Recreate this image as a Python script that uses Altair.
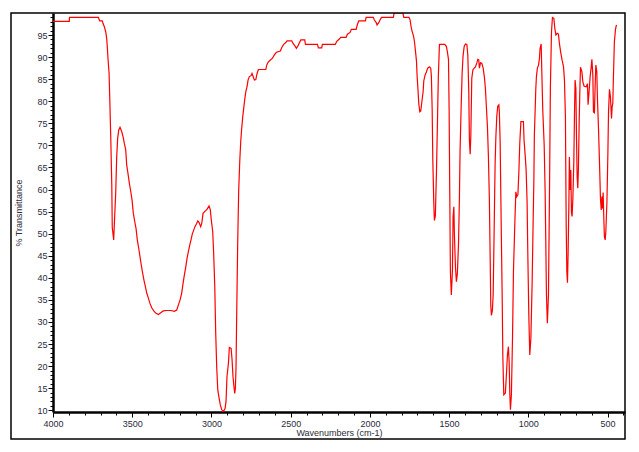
import altair as alt
import pandas as pd

wavenumber = [
    4000, 3897, 3896, 3714, 3705, 3689, 3684, 3676, 3667, 3661, 3657, 3653, 3646, 3642, 3636, 3629,
    3626, 3617, 3613, 3604, 3598, 3592, 3585, 3577, 3566, 3558, 3550, 3541, 3535, 3527, 3518, 3509,
    3501, 3493, 3484, 3476, 3468, 3459, 3451, 3443, 3434, 3426, 3417, 3408, 3398, 3388, 3377, 3364,
    3352, 3335, 3320, 3304, 3282, 3255, 3234, 3219, 3209, 3198, 3188, 3179, 3171, 3162, 3154, 3146,
    3137, 3129, 3121, 3112, 3104, 3095, 3086, 3078, 3068, 3061, 3053, 3040, 3028, 3015, 3007, 3001,
    2992, 2986, 2979, 2973, 2967, 2960, 2952, 2944, 2935, 2925, 2914, 2908, 2902, 2893, 2887, 2876,
    2870, 2864, 2857, 2853, 2849, 2845, 2840, 2834, 2828, 2821, 2815, 2809, 2802, 2796, 2790, 2783,
    2775, 2769, 2761, 2750, 2744, 2737, 2729, 2720, 2712, 2704, 2657, 2651, 2643, 2630, 2616, 2603,
    2590, 2565, 2556, 2544, 2531, 2523, 2493, 2485, 2472, 2464, 2455, 2447, 2436, 2411, 2407, 2331,
    2325, 2304, 2300, 2218, 2209, 2193, 2184, 2150, 2142, 2125, 2117, 2087, 2079, 2070, 2028, 2024,
    1978, 1972, 1961, 1955, 1944, 1936, 1927, 1852, 1847, 1792, 1786, 1753, 1746, 1740, 1734, 1725,
    1719, 1713, 1706, 1702, 1696, 1691, 1685, 1679, 1672, 1664, 1660, 1652, 1643, 1635, 1624, 1616,
    1612, 1607, 1603, 1597, 1593, 1587, 1580, 1574, 1568, 1561, 1527, 1517, 1511, 1504, 1500, 1496,
    1492, 1486, 1479, 1475, 1470, 1467, 1460, 1454, 1448, 1441, 1435, 1431, 1424, 1418, 1412, 1405,
    1397, 1388, 1382, 1376, 1372, 1367, 1363, 1357, 1350, 1342, 1334, 1325, 1319, 1313, 1309, 1302,
    1294, 1285, 1277, 1271, 1265, 1258, 1252, 1246, 1241, 1237, 1233, 1227, 1222, 1216, 1210, 1205,
    1199, 1193, 1186, 1183, 1178, 1172, 1165, 1161, 1155, 1145, 1138, 1132, 1126, 1121, 1117, 1113,
    1107, 1100, 1094, 1085, 1079, 1073, 1066, 1060, 1054, 1047, 1031, 1027, 1020, 1014, 1008, 1003,
    997, 991, 984, 976, 970, 965, 962, 957, 953, 949, 943, 936, 930, 926, 919, 915,
    909, 900, 894, 890, 886, 880, 873, 867, 861, 854, 848, 839, 833, 826, 818, 810,
    804, 795, 787, 778, 772, 766, 761, 757, 753, 749, 744, 741, 736, 732, 728, 724,
    719, 713, 709, 705, 700, 696, 692, 688, 684, 679, 675, 671, 662, 656, 648, 635,
    627, 623, 616, 610, 604, 599, 593, 589, 583, 578, 574, 568, 564, 557, 551, 545,
    540, 536, 532, 528, 523, 520, 515, 511, 504, 498, 494, 488, 482, 475, 471, 467,
    463, 457, 450, 444,
]

transmittance = [
    98.1, 98.1, 99.0, 99.0, 98.2, 98.2, 97.6, 96.9, 95.7, 94.2, 92.2, 89.7, 86.3, 80.9, 72.6, 61.0,
    51.4, 48.6, 52.0, 59.5, 67.4, 71.6, 73.5, 74.1, 73.1, 72.0, 70.5, 69.0, 65.6, 63.7, 61.4, 59.5,
    57.6, 54.6, 52.7, 51.2, 48.6, 46.7, 44.8, 42.9, 41.0, 39.5, 38.0, 36.5, 35.4, 34.2, 33.2, 32.5,
    32.0, 31.7, 32.1, 32.5, 32.6, 32.6, 32.4, 32.7, 33.8, 35.0, 36.5, 38.8, 40.6, 42.5, 44.4, 45.9,
    47.4, 48.6, 49.9, 50.8, 51.6, 52.2, 52.9, 52.5, 51.6, 52.4, 54.6, 55.1, 55.5, 56.3, 55.4, 53.1,
    50.5, 45.5, 38.0, 27.4, 19.9, 14.6, 12.8, 11.2, 10.1, 9.7, 10.4, 12.0, 17.6, 20.6, 24.2, 24.0,
    21.5, 17.6, 15.0, 13.8, 15.0, 19.5, 33.5, 48.6, 59.9, 66.7, 71.0, 73.9, 76.7, 78.5, 80.4, 82.2,
    83.4, 84.8, 85.6, 85.8, 86.3, 85.6, 84.8, 84.9, 86.3, 87.2, 87.2, 88.2, 88.8, 89.3, 89.7, 90.5,
    91.1, 91.4, 92.2, 92.9, 93.3, 93.7, 93.7, 93.1, 92.5, 92.0, 92.5, 93.1, 93.9, 93.9, 92.9, 92.9,
    92.1, 92.1, 92.9, 92.9, 93.6, 94.1, 94.5, 94.5, 95.2, 95.6, 96.3, 96.3, 97.4, 98.2, 98.2, 99.0,
    99.0, 98.4, 97.9, 97.3, 97.8, 98.4, 99.0, 99.0, 100.0, 100.0, 99.0, 99.0, 98.4, 96.9, 95.9, 94.8,
    93.6, 91.6, 89.1, 85.8, 82.2, 79.3, 77.6, 77.8, 79.9, 82.2, 84.6, 85.9, 86.7, 87.5, 87.8, 87.5,
    85.7, 78.2, 66.8, 57.3, 53.0, 54.0, 63.8, 74.6, 85.7, 92.9, 92.9, 92.4, 91.2, 89.5, 78.2, 59.5,
    41.4, 36.1, 41.8, 53.9, 56.1, 50.2, 42.4, 39.1, 41.0, 47.4, 58.0, 68.6, 78.8, 86.3, 90.3, 92.4,
    93.0, 92.9, 90.5, 82.2, 71.2, 68.0, 72.3, 85.2, 87.1, 87.5, 87.8, 88.7, 89.5, 89.4, 87.5, 88.7,
    88.6, 87.5, 85.3, 82.9, 78.8, 74.1, 67.4, 57.9, 44.7, 33.7, 31.5, 32.6, 36.2, 50.3, 65.4, 71.9,
    76.7, 78.9, 79.2, 77.5, 70.9, 53.9, 35.4, 22.1, 13.5, 13.9, 18.4, 22.5, 24.4, 20.9, 13.8, 10.1,
    13.5, 26.3, 41.4, 52.7, 59.5, 58.4, 58.8, 63.8, 70.6, 75.4, 75.4, 71.1, 67.8, 64.4, 57.3, 44.6,
    31.5, 22.5, 26.3, 39.0, 52.3, 62.5, 72.4, 78.0, 82.8, 85.6, 87.5, 88.2, 89.7, 92.0, 93.0, 86.7,
    78.0, 70.0, 59.5, 48.6, 36.5, 29.7, 36.1, 57.6, 82.9, 95.7, 99.0, 98.8, 96.5, 95.0, 95.4, 95.2,
    93.1, 90.9, 89.3, 87.8, 84.8, 76.5, 51.6, 41.4, 38.9, 45.6, 57.3, 67.4, 59.9, 64.4, 54.8, 53.9,
    58.0, 66.3, 76.5, 84.8, 82.9, 71.6, 62.9, 60.3, 64.8, 75.7, 82.2, 87.7, 86.7, 84.4, 83.4, 83.3,
    84.0, 79.2, 82.5, 85.6, 87.5, 89.5, 85.9, 77.6, 77.4, 84.1, 88.2, 86.7, 80.7, 73.5, 66.3, 58.0,
    55.4, 58.4, 55.7, 59.3, 52.7, 49.3, 48.6, 50.5, 57.3, 68.3, 77.6, 82.7, 81.0, 76.1, 78.8, 79.5,
    85.6, 93.5, 96.3, 97.3,
]

x_tick_values = list(range(400, 4001, 100))
y_tick_values = list(range(10, 100))

df = pd.DataFrame({
    "wn": wavenumber,
    "t": transmittance,
    "i": list(range(len(wavenumber))),
})

W, H = 572, 399
FONT = "Liberation Sans"
LABEL_COLOR = "#2b2b3a"

x_axis = alt.Axis(
    values=x_tick_values,
    labelExpr="datum.value % 500 === 0 ? datum.value : ''",
    labelOverlap=False,
    labelFlush=False,
    grid=False,
    domainColor="black",
    domainWidth=2.5,
    tickColor="black",
    tickWidth=1,
    tickSize={"condition": {"test": "datum.value % 500 === 0", "value": 5}, "value": 3},
    labelFont=FONT,
    labelFontSize=9,
    labelColor=LABEL_COLOR,
    labelPadding=2,
    title="Wavenumbers (cm-1)",
    titleFont=FONT,
    titleFontSize=9,
    titleFontWeight="normal",
    titleColor=LABEL_COLOR,
    titlePadding=0,
)

y_axis = alt.Axis(
    values=y_tick_values,
    labelExpr="datum.value % 5 === 0 ? datum.value : ''",
    labelOverlap=False,
    labelFlush=False,
    grid=False,
    domainColor="black",
    domainWidth=2.5,
    tickColor="black",
    tickWidth=1,
    tickSize={"condition": {"test": "datum.value % 5 === 0", "value": 5}, "value": 3},
    labelFont=FONT,
    labelFontSize=9,
    labelColor=LABEL_COLOR,
    labelPadding=1,
    title="% Transmittance",
    titleFont=FONT,
    titleFontSize=9,
    titleFontWeight="normal",
    titleColor=LABEL_COLOR,
    titlePadding=13,
)

line = alt.Chart(df).mark_line(color="#ff0000", strokeWidth=1.2, clip=True).encode(
    x=alt.X("wn:Q", scale=alt.Scale(domain=[4000, 390], nice=False, zero=False), axis=x_axis),
    y=alt.Y("t:Q", scale=alt.Scale(domain=[9.6, 100], nice=False, zero=False), axis=y_axis),
    order="i:Q",
)

frame = alt.Chart(pd.DataFrame({"a": [0]})).mark_rect(
    fillOpacity=0, stroke="black", strokeWidth=1.5, clip=False
).encode(
    x=alt.value(-42), x2=alt.value(W), y=alt.value(0), y2=alt.value(426)
)

chart = alt.layer(line, frame).properties(
    width=W,
    height=H,
    autosize=alt.AutoSizeParams(type="none"),
    padding={"left": 45, "top": 5, "right": 6, "bottom": 30},
    background="white",
).configure_view(strokeWidth=0)

chart.save("out.html", embed_options={"renderer": "svg", "actions": False})
